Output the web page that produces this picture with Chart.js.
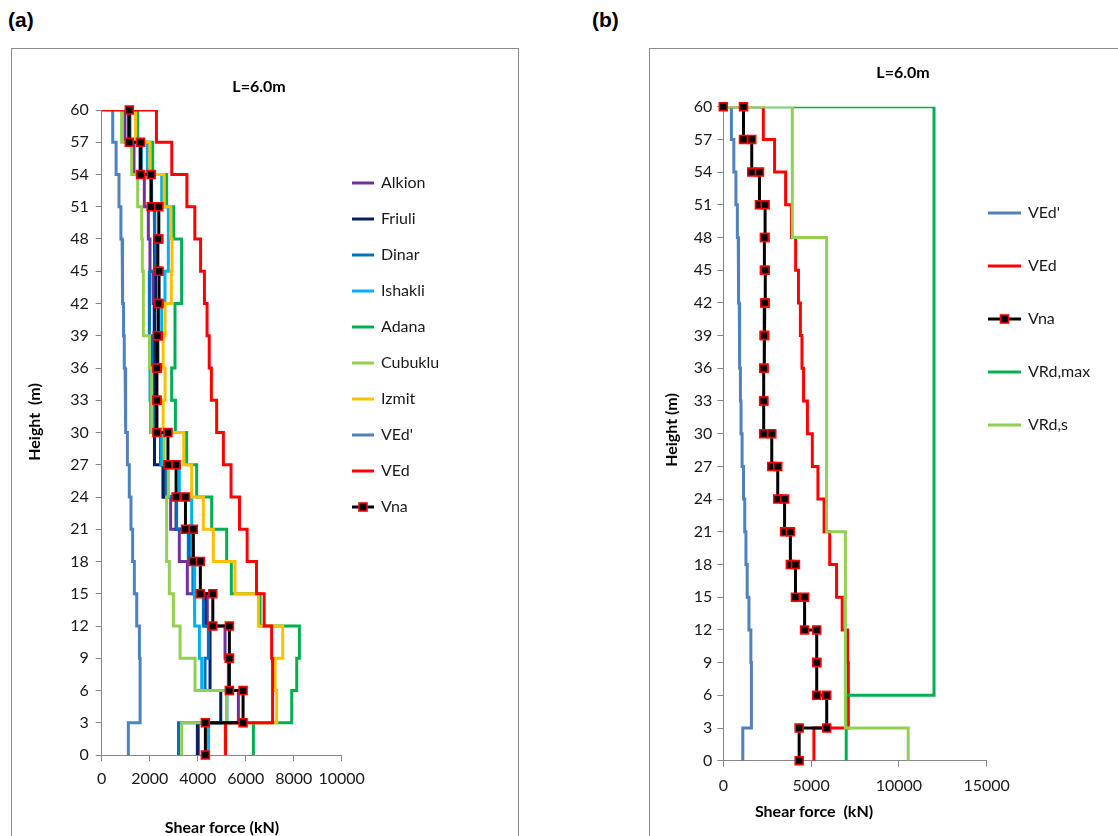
<!DOCTYPE html>
<html>
<head>
<meta charset="utf-8">
<script src="https://cdn.jsdelivr.net/npm/chart.js@4.4.1/dist/chart.umd.min.js"></script>
<style>
  html, body { margin: 0; padding: 0; background: #fff; }
  body { width: 1118px; height: 836px; position: relative; overflow: hidden; }
  .tag { position: absolute; top: 8px; font: bold 21px "Liberation Sans", Arial, sans-serif; color: #000; }
  .frame { position: absolute; top: 48px; height: 820px; border: 1px solid #8c8c8c; }
  canvas { position: absolute; top: 0; }
</style>
</head>
<body>
<div class="tag" style="left:8px">(a)</div>
<div class="tag" style="left:592px">(b)</div>
<div class="frame" style="left:11px; width:506px"></div>
<div class="frame" style="left:649px; width:520px"></div>
<canvas id="chartA" width="560" height="836" style="left:0"></canvas>
<canvas id="chartB" width="558" height="836" style="left:560px"></canvas>
<script>
// ********** data ************
// floor levels (m), top to bottom
const floors = [60, 57, 54, 51, 48, 45, 42, 39, 36, 33, 30, 27, 24, 21, 18, 15, 12, 9, 6, 3, 0];

// storey shear (kN), storey 20 (57-60 m) down to storey 1 (0-3 m)
const alkion  = [970, 1345, 1776, 1943, 2012, 2150, 2200, 2180, 2150, 2050, 2500, 2550, 2873, 3234, 3568, 4400, 5139, 5278, 5695, 4028];
const friuli  = [1120, 1600, 2060, 2193, 2220, 2250, 2220, 2200, 2190, 2200, 2193, 2568, 3100, 3680, 3850, 4306, 4514, 4514, 4960, 3986];
const dinar   = [1130, 1650, 2080, 2200, 2250, 2012, 1971, 2100, 2100, 2150, 2450, 2700, 3123, 3609, 3800, 4236, 4445, 4306, 5210, 3200];
const ishakli = [1180, 1900, 2500, 2776, 2776, 2637, 2500, 2350, 2012, 2100, 2500, 3234, 3748, 3750, 3850, 3887, 4070, 4167, 5210, 4450];
const adana   = [1500, 2124, 2707, 3000, 3330, 3330, 3054, 3054, 2915, 3070, 3540, 3957, 4582, 5207, 5400, 6598, 8237, 8126, 7917, 6320];
const cubuklu = [830, 1250, 1500, 1665, 1693, 1735, 1735, 1990, 2080, 2080, 2600, 2776, 2707, 2707, 2818, 2986, 3264, 3889, 5210, 3333];
const izmit   = [1415, 2010, 2600, 2880, 2930, 2900, 2640, 2560, 2640, 2560, 3420, 3750, 4234, 4651, 5554, 6528, 7542, 7223, 7290, 5140];
const vEdPrime = [460, 600, 720, 800, 850, 880, 910, 940, 975, 1010, 1070, 1150, 1220, 1290, 1360, 1460, 1570, 1600, 1600, 1110];
const vEd     = [2280, 2920, 3550, 3880, 4120, 4280, 4390, 4480, 4570, 4790, 5070, 5390, 5740, 6060, 6450, 6770, 7080, 7120, 7120, 5160];
const vNa     = [1150, 1620, 2060, 2380, 2340, 2390, 2360, 2320, 2300, 2300, 2760, 3100, 3490, 3820, 4110, 4630, 5320, 5320, 5890, 4320];
const vRdMax  = [12000, 12000, 12000, 12000, 12000, 12000, 12000, 12000, 12000, 12000, 12000, 12000, 12000, 12000, 12000, 12000, 12000, 12000, 7000, 7000];
const vRdS    = [3930, 3930, 3930, 3930, 5880, 5880, 5880, 5880, 5880, 5880, 5880, 5880, 5880, 6950, 6950, 6950, 6950, 6950, 6950, 10530];

// axis ticks
const heightTicks = { min: 0, max: 60, step: 3 };
const forceTicksA = { min: 0, max: 10000, step: 2000 };
const forceTicksB = { min: 0, max: 15000, step: 5000 };

// ********** helpers ************
// turn storey values into a stepped profile
function steps(values, fromZero) {
  const pts = fromZero ? [{ x: 0, y: floors[0] }] : [];
  values.forEach((v, i) => {
    pts.push({ x: v, y: floors[i] });
    pts.push({ x: v, y: floors[i + 1] });
  });
  return pts;
}

function lineSet(label, color, pts) {
  return {
    label: label,
    data: pts,
    borderColor: color,
    backgroundColor: color,
    borderWidth: 3,
    pointRadius: 0,
    showLine: true,
    tension: 0,
  };
}

function naSet(pts, hideFirst) {
  const ds = lineSet("Vna", "#000000", pts);
  ds.pointStyle = "rect";
  ds.pointRadius = 5.6;
  ds.pointBackgroundColor = "#000000";
  ds.pointBorderColor = "#FF0000";
  ds.pointBorderWidth = 1.6;
  ds.clip = false;
  if (hideFirst) {
    ds.segment = { borderColor: (c) => (c.p0DataIndex === 0 ? "rgba(0,0,0,0)" : undefined) };
  }
  return ds;
}

// later series on top, like the original
function stackOrder(sets) {
  sets.forEach((ds, i) => (ds.order = sets.length - i));
  return sets;
}

// legend + free texts drawn on the canvas
const decor = {
  id: "decor",
  afterDraw(chart, args, opts) {
    const ctx = chart.ctx;
    ctx.save();
    ctx.textBaseline = "middle";
    ctx.font = opts.legendFont;
    chart.data.datasets.forEach((ds, i) => {
      const y = opts.legendY + i * opts.legendDy;
      ctx.strokeStyle = ds.borderColor;
      ctx.lineWidth = 3;
      ctx.beginPath();
      ctx.moveTo(opts.legendX, y);
      ctx.lineTo(opts.legendX + opts.legendW, y);
      ctx.stroke();
      if (ds.pointRadius > 0) {
        const cx = opts.legendX + opts.legendW / 2;
        ctx.fillStyle = ds.pointBackgroundColor;
        ctx.strokeStyle = ds.pointBorderColor;
        ctx.lineWidth = ds.pointBorderWidth;
        ctx.fillRect(cx - 4, y - 4, 8, 8);
        ctx.strokeRect(cx - 4, y - 4, 8, 8);
      }
      ctx.fillStyle = "#1a1a1a";
      ctx.textAlign = "left";
      ctx.fillText(ds.label, opts.legendX + opts.legendW + opts.legendGap, y);
    });
    opts.texts.forEach((t) => {
      ctx.save();
      ctx.font = t.font;
      ctx.fillStyle = "#000";
      ctx.textAlign = "center";
      ctx.translate(t.x, t.y);
      if (t.rot) ctx.rotate(t.rot);
      ctx.fillText(t.text, 0, 0);
      ctx.restore();
    });
    ctx.restore();
  },
};

function axes(xt, yt, box) {
  const tickFont = { family: "Lato", size: 16 };
  const grid = { drawOnChartArea: false, tickLength: 6, color: "#868686" };
  return {
    x: {
      type: "linear",
      min: xt.min,
      max: xt.max,
      grid: grid,
      border: { color: "#868686" },
      ticks: { stepSize: xt.step, autoSkip: false, font: tickFont, color: "#1a1a1a", padding: box.xPad, maxRotation: 0, callback: (v) => String(v) },
      afterFit: (s) => { s.height = box.xHeight; },
    },
    y: {
      type: "linear",
      min: yt.min,
      max: yt.max,
      grid: grid,
      border: { color: "#868686" },
      ticks: { stepSize: yt.step, autoSkip: false, font: tickFont, color: "#1a1a1a", padding: box.yPad, callback: (v) => String(v) },
      afterFit: (s) => { s.width = box.yWidth; },
    },
  };
}

// ********** chart (a) ************
const setsA = stackOrder([
  lineSet("Alkion", "#7030A0", steps(alkion)),
  lineSet("Friuli", "#002060", steps(friuli)),
  lineSet("Dinar", "#0070C0", steps(dinar)),
  lineSet("Ishakli", "#00B0F0", steps(ishakli)),
  lineSet("Adana", "#00B050", steps(adana)),
  lineSet("Cubuklu", "#92D050", steps(cubuklu)),
  lineSet("Izmit", "#FFC000", steps(izmit)),
  lineSet("VEd'", "#4F81BD", steps(vEdPrime)),
  lineSet("VEd", "#FF0000", steps(vEd, true)),
  naSet(steps(vNa)),
]);

new Chart(document.getElementById("chartA"), {
  type: "scatter",
  data: { datasets: setsA },
  options: {
    responsive: false,
    animation: false,
    events: [],
    layout: { padding: { left: 0, top: 110, right: 218.3, bottom: 0 } },
    scales: axes(forceTicksA, heightTicks, { xHeight: 81, yWidth: 101.7, xPad: 8, yPad: 7 }),
    plugins: {
      legend: { display: false },
      tooltip: { enabled: false },
      decor: {
        legendFont: "16px Lato",
        legendX: 352, legendY: 183, legendDy: 36, legendW: 22, legendGap: 7,
        texts: [
          { text: "L=6.0m", x: 259, y: 87, font: "bold 16px Lato" },
          { text: "Height  (m)", x: 35, y: 422, font: "bold 16px Lato", rot: -Math.PI / 2 },
          { text: "Shear force (kN)", x: 222, y: 828, font: "bold 16px Lato" },
        ],
      },
    },
  },
  plugins: [decor],
});

// ********** chart (b) ************
const setsB = stackOrder([
  lineSet("VEd'", "#4F81BD", steps(vEdPrime)),
  lineSet("VEd", "#FF0000", steps(vEd, true)),
  naSet(steps(vNa, true), true),
  lineSet("VRd,max", "#00B050", steps(vRdMax, true)),
  lineSet("VRd,s", "#92D050", steps(vRdS, true)),
]);
// Vna stays on top in (b)
setsB[2].order = 0;

new Chart(document.getElementById("chartB"), {
  type: "scatter",
  data: { datasets: setsB },
  options: {
    responsive: false,
    animation: false,
    events: [],
    layout: { padding: { left: 0, top: 106.7, right: 131.3, bottom: 0 } },
    scales: axes(forceTicksB, heightTicks, { xHeight: 75.3, yWidth: 163.3, xPad: 10, yPad: 5 }),
    plugins: {
      legend: { display: false },
      tooltip: { enabled: false },
      decor: {
        legendFont: "16px Lato",
        legendX: 428, legendY: 213, legendDy: 53, legendW: 33, legendGap: 7,
        texts: [
          { text: "L=6.0m", x: 343, y: 73, font: "bold 16px Lato" },
          { text: "Height (m)", x: 112, y: 430, font: "bold 16px Lato", rot: -Math.PI / 2 },
          { text: "Shear force  (kN)", x: 254, y: 812, font: "bold 16px Lato" },
        ],
      },
    },
  },
  plugins: [decor],
});
</script>
</body>
</html>
